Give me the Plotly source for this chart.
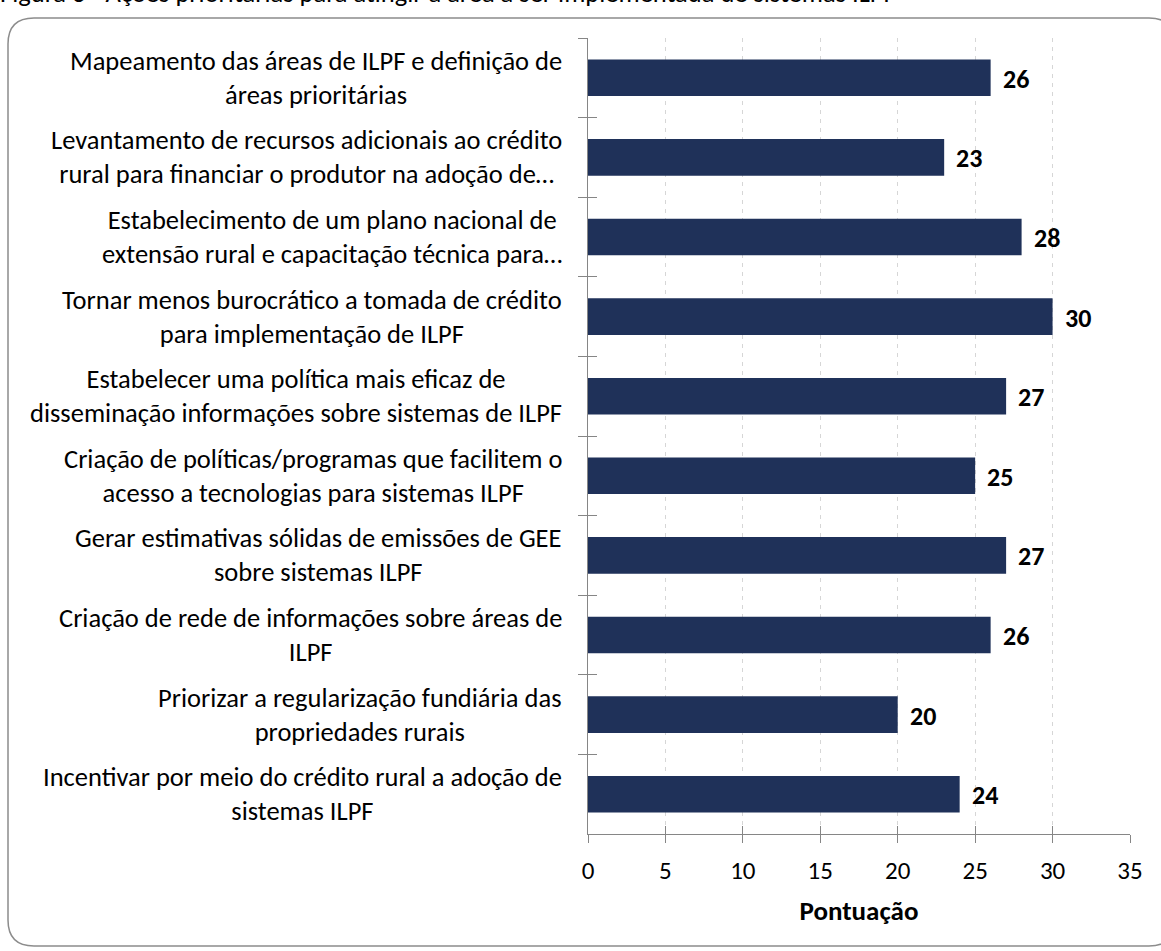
import plotly.graph_objects as go

# ---------------- data ----------------
categories = [
    "Mapeamento das áreas de ILPF e definição de<br>áreas prioritárias",
    "Levantamento de recursos adicionais ao crédito<br>rural para financiar o produtor na adoção de…",
    "Estabelecimento de um plano nacional de<br>extensão rural e capacitação técnica para…",
    "Tornar menos burocrático a tomada de crédito<br>para implementação de ILPF",
    "Estabelecer uma política mais eficaz de<br>disseminação informações sobre sistemas de ILPF",
    "Criação de políticas/programas que facilitem o<br>acesso a tecnologias para sistemas ILPF",
    "Gerar estimativas sólidas de emissões de GEE<br>sobre sistemas ILPF",
    "Criação de rede de informações sobre áreas de<br>ILPF",
    "Priorizar a regularização fundiária das<br>propriedades rurais",
    "Incentivar por meio do crédito rural a adoção de<br>sistemas ILPF",
]
scores = [26, 23, 28, 30, 27, 25, 27, 26, 20, 24]
x_ticks = [0, 5, 10, 15, 20, 25, 30, 35]
x_title = "Pontuação"
fig_title = "Figura 3 - Ações prioritárias para atingir a área a ser implementada de sistemas ILPF"

# ---------------- layout constants ----------------
W, H = 1161, 951
ML, MR, MT, MB = 588, 31, 38, 117
PW, PH = W - ML - MR, H - MT - MB
FONT = "Carlito, Lato, sans-serif"
BAR = "#1F3159"
AXIS = "#868686"


def px(xp):
    return (xp - ML) / PW


def py(yp):
    return (H - MB - yp) / PH


fig = go.Figure()
fig.add_trace(go.Bar(
    x=scores, y=categories, orientation="h",
    marker=dict(color=BAR, line=dict(width=0)),
    width=0.46, hoverinfo="x+y", showlegend=False,
))

annotations = []
for c, v in zip(categories, scores):
    annotations.append(dict(
        x=v, y=c, xref="x", yref="y", text=f"<b>{v}</b>", showarrow=False,
        xanchor="left", yanchor="middle", xshift=10, yshift=-1,
        font=dict(family=FONT, size=26, color="#000000"),
    ))
    annotations.append(dict(
        x=0, y=c, xref="paper", yref="y", text=c, showarrow=False,
        xanchor="right", yanchor="middle", xshift=-24, align="center",
        font=dict(family=FONT, size=26.5, color="#000000"),
    ))

# clipped figure caption at top
annotations.append(dict(
    x=px(-2), y=py(11), xref="paper", yref="paper", text=fig_title,
    showarrow=False, xanchor="left", yanchor="bottom",
    font=dict(family=FONT, size=26.5, color="#000000"),
))

# rounded frame
L, T, R, B, r = 8, 18, 1175, 946, 26
path = (
    f"M {px(L + r)},{py(T)} L {px(R - r)},{py(T)} Q {px(R)},{py(T)} {px(R)},{py(T + r)} "
    f"L {px(R)},{py(B - r)} Q {px(R)},{py(B)} {px(R - r)},{py(B)} "
    f"L {px(L + r)},{py(B)} Q {px(L)},{py(B)} {px(L)},{py(B - r)} "
    f"L {px(L)},{py(T + r)} Q {px(L)},{py(T)} {px(L + r)},{py(T)} Z"
)

fig.update_layout(
    width=W, height=H,
    margin=dict(l=ML, r=MR, t=MT, b=MB, autoexpand=False),
    paper_bgcolor="white", plot_bgcolor="white",
    font=dict(family=FONT, color="#000000"),
    annotations=annotations,
    shapes=[dict(type="path", path=path, xref="paper", yref="paper",
                 line=dict(color="#8c8c8c", width=1.5), fillcolor="rgba(0,0,0,0)", layer="below")],
    xaxis=dict(
        range=[0, 35], tickvals=x_ticks, showgrid=True, gridcolor="#d6d6d6",
        griddash="4px,5px", gridwidth=1, zeroline=False,
        showline=True, linecolor=AXIS, linewidth=1.2,
        ticks="outside", ticklen=8, tickcolor=AXIS, tickwidth=1.2,
        tickfont=dict(family=FONT, size=25, color="#000000"),
        ticklabelstandoff=6,
        title=dict(text=f"<b>{x_title}</b>", font=dict(family=FONT, size=27, color="#000000"), standoff=16),
        automargin=False, fixedrange=True,
    ),
    xaxis2=dict(
        range=[0, 35], tickvals=x_ticks, overlaying="x", anchor="y", side="bottom",
        ticks="inside", ticklen=8, tickcolor=AXIS, tickwidth=1.2,
        showticklabels=False, showgrid=False, showline=False, zeroline=False,
    ),
    yaxis=dict(
        type="category", categoryarray=categories, autorange="reversed",
        tickson="boundaries", ticks="outside", ticklen=9, tickcolor=AXIS, tickwidth=1.2,
        showticklabels=False, showgrid=False, showline=True, linecolor=AXIS, linewidth=1.2,
        zeroline=False, automargin=False, fixedrange=True,
    ),
    yaxis2=dict(
        range=[len(categories) - 0.5, -0.5],
        tickvals=[i - 0.5 for i in range(len(categories) + 1)],
        overlaying="y", anchor="x", side="left",
        ticks="inside", ticklen=9, tickcolor=AXIS, tickwidth=1.2,
        showticklabels=False, showgrid=False, showline=False, zeroline=False,
    ),
)

# invisible helper trace so the overlay axes are drawn
fig.add_trace(go.Scatter(x=[0], y=[0], xaxis="x2", yaxis="y2", mode="markers",
                         marker=dict(opacity=0), hoverinfo="skip", showlegend=False))

fig.write_html("out.html")
